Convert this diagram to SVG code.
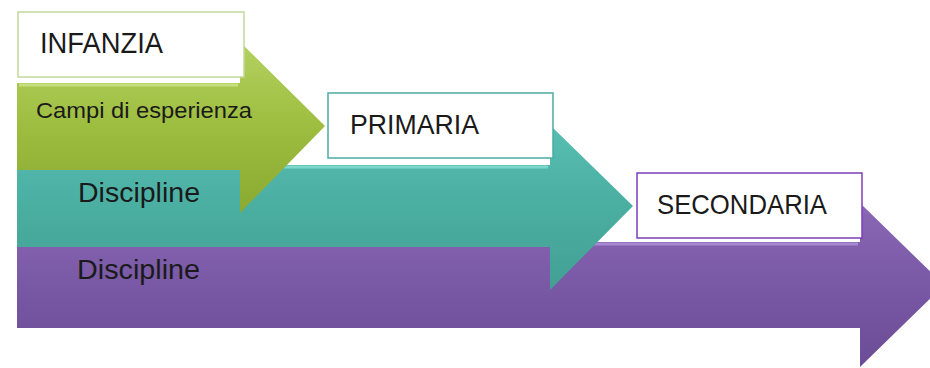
<svg xmlns="http://www.w3.org/2000/svg" width="930" height="368" viewBox="0 0 930 368">
<style>
text{font-family:"Liberation Sans",Arial,sans-serif;fill:#1a1a1a}
.box{fill:#ffffff;stroke-width:1.5}
.hl{fill:none;stroke-width:3;opacity:0.7}
</style>
<defs>
<linearGradient id="gG" x1="0" y1="0" x2="0" y2="1">
<stop offset="0" stop-color="#b4d160"/><stop offset="0.5" stop-color="#9dbd3f"/><stop offset="1" stop-color="#8aa931"/>
</linearGradient>
<linearGradient id="gT" x1="0" y1="0" x2="0" y2="1">
<stop offset="0" stop-color="#58bfb2"/><stop offset="0.5" stop-color="#4aaea1"/><stop offset="1" stop-color="#42a093"/>
</linearGradient>
<linearGradient id="gP" x1="0" y1="0" x2="0" y2="1">
<stop offset="0" stop-color="#8a68b5"/><stop offset="0.5" stop-color="#7958a5"/><stop offset="1" stop-color="#6b4c95"/>
</linearGradient>
</defs>
<g id="secondaria">
<path d="M17,242 H860 V203 L944,285 L860,367 V328 H17 Z" fill="url(#gP)"/>
<path class="hl" d="M19,244 H858" stroke="#b79be0"/>
<rect class="box" x="637" y="173" width="225" height="65" stroke="#7d3fb8"/>
<text x="657" y="214" font-size="28" textLength="170" lengthAdjust="spacingAndGlyphs">SECONDARIA</text>
<text x="77" y="279" font-size="28" textLength="123" lengthAdjust="spacingAndGlyphs">Discipline</text>
</g>
<g id="primaria">
<path d="M17,165 H550 V125 L633,206 L550,290 V247 H17 Z" fill="url(#gT)"/>
<path class="hl" d="M19,167 H548" stroke="#8ee6da"/>
<rect class="box" x="328" y="93" width="225" height="65" stroke="#4aaca2"/>
<text x="350" y="134" font-size="28" textLength="129" lengthAdjust="spacingAndGlyphs">PRIMARIA</text>
<text x="78" y="202" font-size="28" textLength="122" lengthAdjust="spacingAndGlyphs">Discipline</text>
</g>
<g id="infanzia">
<path d="M17,83 H240 V42 L325,126 L240,213 V170 H17 Z" fill="url(#gG)"/>
<path class="hl" d="M19,85 H238" stroke="#d6ea96"/>
<rect class="box" x="18" y="12" width="226" height="65" stroke="#c4d89c"/>
<text x="40" y="53" font-size="29" textLength="123" lengthAdjust="spacingAndGlyphs">INFANZIA</text>
<text x="36" y="118" font-size="22" textLength="216" lengthAdjust="spacingAndGlyphs">Campi di esperienza</text>
</g>
<g id="connectors"/>
</svg>
